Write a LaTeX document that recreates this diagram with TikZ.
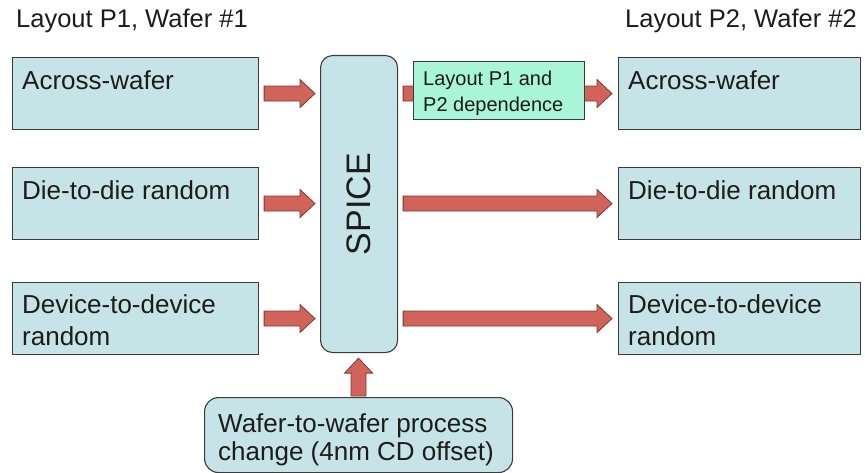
\documentclass[tikz,border=0pt]{standalone}
\usepackage{fontspec}
\setmainfont{Liberation Sans}
\usetikzlibrary{calc}

\definecolor{boxfill}{HTML}{C6E4E7}
\definecolor{boxline}{HTML}{3C3C3C}
\definecolor{greenfill}{HTML}{A8F6D7}
\definecolor{arrowfill}{HTML}{D0645B}
\definecolor{arrowline}{HTML}{7A3A35}
\definecolor{textcol}{HTML}{1C1C1C}

% horizontal block arrow, from #1 to the x of #2
\newcommand{\fatarrowright}[2]{%
  \draw[fatarrow] let \p1=#1, \p2=#2 in
    (\x1,\y1+7.5pt) -- (\x2-15pt,\y1+7.5pt) -- (\x2-15pt,\y1+14pt) -- (\x2,\y1)
    -- (\x2-15pt,\y1-14pt) -- (\x2-15pt,\y1-7.5pt) -- (\x1,\y1-7.5pt) -- cycle;}
% vertical block arrow, from #1 up to the y of #2
\newcommand{\fatarrowup}[2]{%
  \draw[fatarrow] let \p1=#1, \p2=#2 in
    (\x1-7.5pt,\y1) -- (\x1-7.5pt,\y2-15pt) -- (\x1-14pt,\y2-15pt) -- (\x1,\y2)
    -- (\x1+14pt,\y2-15pt) -- (\x1+7.5pt,\y2-15pt) -- (\x1+7.5pt,\y1) -- cycle;}

\begin{document}
\begin{tikzpicture}[x=1pt, y=1pt, line join=miter,
    panel/.style={draw=boxline, fill=boxfill, line width=1.1pt, anchor=north west, inner sep=0pt},
    boxtext/.style={anchor=base west, inner sep=0pt, align=left, text=textcol,
      font=\fontsize{26}{32}\selectfont},
    fatarrow/.style={draw=arrowline, fill=arrowfill, line width=0.8pt}]
  % Fix the page size
  \useasboundingbox (0,0) rectangle (865,-473);

  % Column headings
  \node[boxtext, font=\fontsize{25.5}{32}\selectfont] (headl) at (16,-28) {Layout P1, Wafer \#1};
  \node[boxtext, font=\fontsize{25.5}{32}\selectfont] (headr) at (625,-28) {Layout P2, Wafer \#2};

  % Left column (wafer 1); base of a text node is its last line
  \node[panel, minimum width=246pt, minimum height=72pt] (lw1) at (12,-57) {};
  \node[panel, minimum width=246pt, minimum height=72pt] (lw2) at (12,-167) {};
  \node[panel, minimum width=246pt, minimum height=72pt] (lw3) at (12,-282) {};
  \node[boxtext] (lw1t) at ([xshift=10pt, yshift=-33pt]lw1.north west) {Across-wafer};
  \node[boxtext] (lw2t) at ([xshift=10pt, yshift=-33pt]lw2.north west) {Die-to-die random};
  \node[boxtext] (lw3t) at ([xshift=10pt, yshift=-63pt]lw3.north west) {Device-to-device\\random};

  % Right column (wafer 2)
  \node[panel, minimum width=242pt, minimum height=72pt] (rw1) at (618,-57) {};
  \node[panel, minimum width=242pt, minimum height=72pt] (rw2) at (618,-167) {};
  \node[panel, minimum width=242pt, minimum height=72pt] (rw3) at (618,-282) {};
  \node[boxtext] (rw1t) at ([xshift=10pt, yshift=-33pt]rw1.north west) {Across-wafer};
  \node[boxtext] (rw2t) at ([xshift=10pt, yshift=-33pt]rw2.north west) {Die-to-die random};
  \node[boxtext] (rw3t) at ([xshift=10pt, yshift=-63pt]rw3.north west) {Device-to-device\\random};

  % SPICE block
  \node[panel, rounded corners=12pt, minimum width=77pt, minimum height=297pt] (spice) at (320,-55) {};
  \node[rotate=90, text=textcol, font=\fontsize{34}{40}\selectfont] (spicet) at (spice.center) {SPICE};

  % Process change box
  \node[panel, rounded corners=14pt, minimum width=308pt, minimum height=75pt] (wtw) at (204,-397) {};
  \node[boxtext, font=\fontsize{26}{27.5}\selectfont] (wtwt) at ([xshift=14pt, yshift=-63pt]wtw.north west)
    {Wafer-to-wafer process\\change (4nm CD offset)};

  % Block arrows into and out of SPICE
  \foreach \r in {1,2,3} {
    \fatarrowright{([xshift=5pt]lw\r.east)}{([xshift=-5pt]spice.west)}
    \fatarrowright{([xshift=5pt]spice.east |- lw\r.east)}{([xshift=-6pt]rw\r.west)}
  }
  \fatarrowup{([yshift=1pt]wtw.north)}{([yshift=-5pt]spice.south)}

  % Layout dependence box, over the first output arrow
  \node[panel, fill=greenfill, minimum width=171pt, minimum height=58pt] (dep) at (413,-61) {};
  \node[boxtext, font=\fontsize{20}{26}\selectfont] (dept) at ([xshift=10pt, yshift=-51pt]dep.north west)
    {Layout P1 and\\P2 dependence};
\end{tikzpicture}
\end{document}
